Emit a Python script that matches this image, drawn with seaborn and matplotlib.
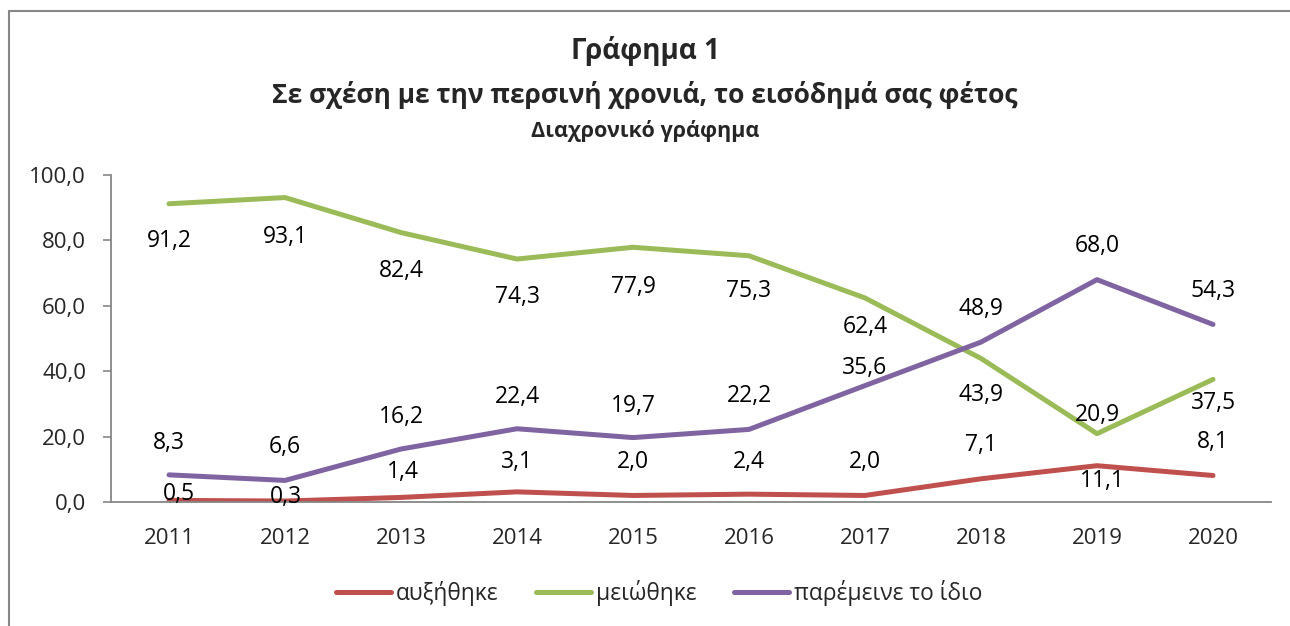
import numpy as np
import pandas as pd
import matplotlib
matplotlib.use('Agg')
import matplotlib.pyplot as plt
from matplotlib.lines import Line2D
from matplotlib.ticker import FixedLocator, FuncFormatter
import seaborn as sns

# data
years = ['2011', '2012', '2013', '2014', '2015', '2016', '2017', '2018', '2019', '2020']
increased = [0.5, 0.3, 1.4, 3.1, 2.0, 2.4, 2.0, 7.1, 11.1, 8.1]
decreased = [91.2, 93.1, 82.4, 74.3, 77.9, 75.3, 62.4, 43.9, 20.9, 37.5]
same = [8.3, 6.6, 16.2, 22.4, 19.7, 22.2, 35.6, 48.9, 68.0, 54.3]
series_names = ['αυξήθηκε', 'μειώθηκε', 'παρέμεινε το ίδιο']
colors = ['#C0504D', '#9BBB59', '#8064A2']

# vertical label offsets in pixels (negative = above the point)
label_dy = {
    'αυξήθηκε': [-6, -4, -25, -30, -33, -32, -33, -34, 15, -34],
    'μειώθηκε': [37, 39, 38, 38, 40, 35, 29, 37, -19, 24],
    'παρέμεινε το ίδιο': [-32, -33, -32, -32, -32, -33, -18, -33, -34, -33],
}
label_dx = {
    'αυξήθηκε': [10, 1, 2, 0, 0, 0, 0, 0, 5, 0],
    'μειώθηκε': [0] * 10,
    'παρέμεινε το ίδιο': [0] * 10,
}

df = pd.DataFrame({
    'year': years * 3,
    'value': increased + decreased + same,
    'series': [s for s in series_names for _ in years],
})
df['x'] = df['year'].map({y: i for i, y in enumerate(years)})

sns.set_style('white')
plt.rcParams['font.family'] = ['Open Sans', 'DejaVu Sans']

fig = plt.figure(figsize=(12.9, 6.26), dpi=100)
ax = fig.add_axes([111 / 1290, 1 - 502 / 626, (1271 - 111) / 1290, (502 - 175) / 626])

sns.lineplot(data=df, x='x', y='value', hue='series', hue_order=series_names,
             palette=colors, linewidth=3.6, ax=ax, legend=False, sort=False)

for name, col in zip(series_names, colors):
    vals = df.loc[df['series'] == name, 'value'].tolist()
    for i, v in enumerate(vals):
        ax.annotate(f'{v:.1f}'.replace('.', ','), (i, v),
                    xytext=(label_dx[name][i], -label_dy[name][i]),
                    textcoords='offset pixels', ha='center', va='center',
                    fontsize=16.5, color='black')

ax.set_xlim(-0.5, len(years) - 0.5)
ax.set_ylim(0, 100)
ax.set_yticks(np.arange(0, 101, 20))
ax.yaxis.set_major_formatter(FuncFormatter(lambda v, p: f'{v:.1f}'.replace('.', ',')))
ax.set_xticks(range(len(years)))
ax.set_xticklabels(years)
ax.xaxis.set_minor_locator(FixedLocator(np.arange(-0.5, len(years), 1.0)))
ax.tick_params(axis='x', which='major', length=0, pad=19, labelsize=16)
ax.tick_params(axis='x', which='minor', length=7, width=1.2, color='#868686', direction='out')
ax.tick_params(axis='y', which='major', length=6, width=1.2, color='#868686', direction='out',
               pad=12, labelsize=16, left=True)
ax.set_xlabel('')
ax.set_ylabel('')
for side in ['top', 'right']:
    ax.spines[side].set_visible(False)
for side in ['left', 'bottom']:
    ax.spines[side].set_color('#868686')
    ax.spines[side].set_linewidth(1.3)

# titles
fig.text(0.5, 1 - 51 / 626, 'Γράφημα 1', ha='center', va='center', fontsize=20, fontweight='bold')
fig.text(0.5, 1 - 95 / 626, 'Σε σχέση με την περσινή χρονιά, το εισόδημά σας φέτος',
         ha='center', va='center', fontsize=19, fontweight='bold')
fig.text(0.5, 1 - 131 / 626, 'Διαχρονικό γράφημα', ha='center', va='center',
         fontsize=15.5, fontweight='bold')

# legend
handles = [Line2D([0], [0], color=c, lw=3.6) for c in colors]
fig.legend(handles, series_names, loc='center', bbox_to_anchor=(0.5 + 14 / 1290, 1 - 593 / 626),
           ncol=3, frameon=False, fontsize=16.4, handlelength=2.4, handletextpad=0.22,
           columnspacing=1.65)

# outer chart border (only left/top visible in the reference)
fig.add_artist(Line2D([9 / 1290, 9 / 1290], [0, 1 - 11 / 626], transform=fig.transFigure,
                      color='#868686', lw=1.5))
fig.add_artist(Line2D([9 / 1290, 1], [1 - 11 / 626, 1 - 11 / 626], transform=fig.transFigure,
                      color='#868686', lw=1.5))

fig.savefig('out.png', dpi=100, facecolor='white')
